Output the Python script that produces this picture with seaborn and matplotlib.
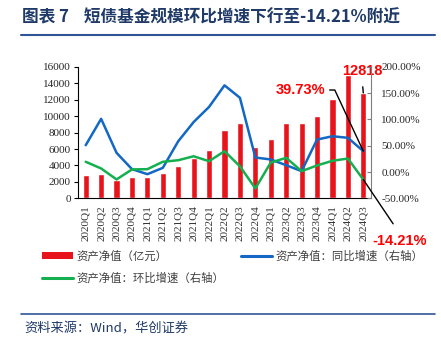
import matplotlib
matplotlib.use("Agg")
import matplotlib.pyplot as plt
import seaborn as sns
import pandas as pd
import numpy as np
from matplotlib.lines import Line2D
from matplotlib.patches import Patch

quarters = ["2020Q1", "2020Q2", "2020Q3", "2020Q4", "2021Q1", "2021Q2", "2021Q3", "2021Q4",
            "2022Q1", "2022Q2", "2022Q3", "2022Q4", "2023Q1", "2023Q2", "2023Q3", "2023Q4",
            "2024Q1", "2024Q2", "2024Q3"]
nav = [2830, 2910, 2230, 2590, 2630, 3110, 3880, 4930, 5940, 8360, 9210, 6220, 7230, 9210,
       9130, 10060, 12080, 14940, 12818]
yoy = [51, 101, 36.5, 5.5, -4, 8, 58.5, 95, 123.7, 164.6, 141, 27.6, 23.9, 13, 1.7, 61.7,
       68, 65, 39.73]
qoq = [19.5, 6.8, -14, 5, 5.5, 19.5, 22.5, 30, 20.6, 39.6, 11, -31, 18, 27, 1.7, 12.5,
       21.4, 25.7, -14.21]

left_ticks = [0, 2000, 4000, 6000, 8000, 10000, 12000, 14000, 16000]
right_ticks = [-50, 0, 50, 100, 150, 200]

title = "图表 7    短债基金规模环比增速下行至-14.21%附近"
source = "资料来源：Wind，华创证券"
lab_bar = "资产净值（亿元）"
lab_yoy = "资产净值：同比增速（右轴）"
lab_qoq = "资产净值：环比增速（右轴）"

df = pd.DataFrame({"q": quarters, "nav": nav, "yoy": yoy, "qoq": qoq,
                   "pos": np.arange(len(quarters))})

sns.set_style("white")
plt.rcParams["font.family"] = ["Liberation Serif", "Noto Sans CJK SC", "DejaVu Sans"]

RED = "#E8141C"
BLUE = "#1268C4"
GREEN = "#14B050"
NAVY = "#1F3A68"
CJK = ["Noto Sans CJK SC", "DejaVu Sans"]

W, H = 441, 337
fig = plt.figure(figsize=(W / 100, H / 100), dpi=100)
ax = fig.add_axes([78 / W, 1 - 198.4 / H, (371 - 78) / W, (198.4 - 66.7) / H])

sns.barplot(data=df, x="q", y="nav", color=RED, width=0.4, ax=ax, saturation=1)
ax.set_xlim(-0.5, len(quarters) - 0.5)
ax.set_ylim(0, 16000)
ax.set_yticks(left_ticks)
ax.set_yticklabels([str(t) for t in left_ticks], fontsize=8)
ax.set_xlabel("")
ax.set_ylabel("")
ax.set_xticks(range(len(quarters)))
ax.set_xticklabels(quarters, rotation=90, fontsize=8, color="#333333")
ax.set_xticks(np.arange(-0.5, len(quarters), 1.0), minor=True)
ax.tick_params(axis="x", which="major", length=0, pad=5)
ax.tick_params(axis="x", which="minor", length=3, direction="out", color="black", width=0.8)
ax.tick_params(axis="y", length=3, direction="out", left=True, color="black", width=0.8,
               labelsize=8, pad=2)
for s in ["top", "right"]:
    ax.spines[s].set_visible(False)
for s in ["left", "bottom"]:
    ax.spines[s].set_color("black")
    ax.spines[s].set_linewidth(0.8)

ax2 = ax.twinx()
sns.lineplot(data=df, x="pos", y="yoy", color=BLUE, lw=1.8, ax=ax2)
sns.lineplot(data=df, x="pos", y="qoq", color=GREEN, lw=1.8, ax=ax2)
ax2.set_ylim(-50, 200)
ax2.set_yticks(right_ticks)
ax2.set_yticklabels([f"{t:.2f}%" for t in right_ticks], fontsize=8)
ax2.set_ylabel("")
ax2.set_xlabel("")
ax2.set_xlim(-0.5, len(quarters) - 0.5)
ax2.tick_params(axis="y", length=3, direction="in", right=True, color="#7f7f7f", width=0.8,
                labelsize=8, pad=7.5)
for s in ["top", "left", "bottom"]:
    ax2.spines[s].set_visible(False)
ax2.spines["right"].set_color("#7f7f7f")
ax2.spines["right"].set_linewidth(0.8)

ann_font = dict(family="Liberation Sans", weight="bold", size=10.5, color="#FF0000")
last = len(quarters) - 1
ax2.annotate(f"{yoy[-1]:.2f}%", xy=(last, yoy[-1]), xytext=(325, H - 90),
             textcoords="figure pixels", ha="right", va="center", annotation_clip=False,
             arrowprops=dict(arrowstyle="-", color="black", lw=1, relpos=(1, 0.5),
                             shrinkA=1, shrinkB=0,
                             connectionstyle="angle,angleA=0,angleB=115,rad=0"),
             **ann_font)
ax.annotate(f"{nav[-1]}", xy=(last, nav[-1]), xytext=(362, H - 71),
            textcoords="figure pixels", ha="center", va="center", annotation_clip=False,
            arrowprops=dict(arrowstyle="-", color="black", lw=1, relpos=(0.5, 0),
                            shrinkA=4, shrinkB=0),
            **ann_font)
ax2.annotate(f"{qoq[-1]:.2f}%", xy=(last, qoq[-1]), xytext=(400, H - 241),
             textcoords="figure pixels", ha="center", va="center", annotation_clip=False,
             arrowprops=dict(arrowstyle="-", color="black", lw=1, relpos=(0.5, 1),
                             shrinkA=6, shrinkB=0),
             **ann_font)

handles = [Patch(facecolor=RED, edgecolor="none"),
           Line2D([], [], color=GREEN, lw=2.2),
           Line2D([], [], color=BLUE, lw=2.2)]
labels = [lab_bar, lab_qoq, lab_yoy]
fig.legend(handles, labels, ncol=2, loc="upper left",
           bbox_to_anchor=(42 / W, 1 - 250 / H), frameon=False,
           prop=dict(family=CJK, size=8.2), labelcolor="#404040",
           handlelength=2.7, handleheight=0.6, handletextpad=0.35,
           columnspacing=1.45, labelspacing=1.0, borderaxespad=0, borderpad=0)

fig.text(22 / W, 1 - 18 / H, title, family=CJK, weight="bold", size=12,
         color=NAVY, ha="left", va="center")
fig.add_artist(Line2D([21 / W, 435 / W], [1 - 34.5 / H, 1 - 34.5 / H],
                      color="#2F5597", lw=1.5))
fig.add_artist(Line2D([21 / W, 435 / W], [1 - 314 / H, 1 - 314 / H],
                      color="#2F5597", lw=1.2))
fig.text(24 / W, 1 - 329 / H, source, family=CJK, style="italic", size=9.5,
         color=NAVY, ha="left", va="center")

fig.savefig("out.png", dpi=100)
